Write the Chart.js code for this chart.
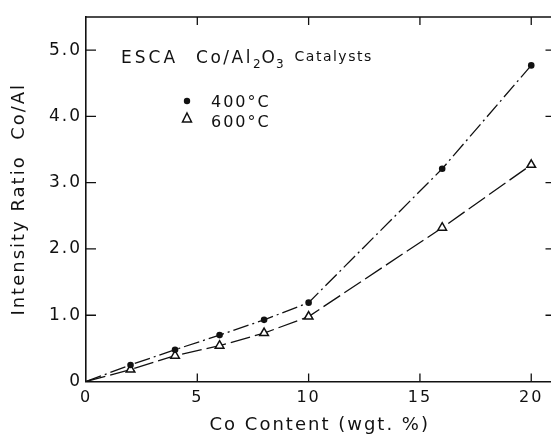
<!DOCTYPE html>
<html>
<head>
<meta charset="utf-8">
<script src="https://cdn.jsdelivr.net/npm/chart.js@4.4.1/dist/chart.umd.min.js"></script>
<style>
  html, body { margin: 0; padding: 0; background: #fff; overflow: hidden; }
  #wrap { width: 560px; height: 439px; }
</style>
</head>
<body>
<div id="wrap"><canvas id="chart" width="560" height="439"></canvas></div>
<script>
const coContent = [0, 2, 4, 6, 8, 10, 16, 20];
const ratio400 = [0, 0.25, 0.48, 0.70, 0.93, 1.19, 3.21, 4.77];
const ratio600 = [0, 0.18, 0.39, 0.54, 0.73, 0.98, 2.32, 3.27];
const seriesLabels = ["400°C", "600°C"];
const xTicks = [0, 5, 10, 15, 20];
const yTicks = [0, 1, 2, 3, 4, 5];

const FONT = "'DejaVu Sans', sans-serif";
const INK = "#111";

function pts(ys) {
  return coContent.map((x, i) => ({ x: x, y: ys[i] }));
}

// frame, inward ticks, caption and key drawn on top of the chart
const decor = {
  id: "decor",
  beforeDraw(chart) {
    chart.ctx.letterSpacing = "2px";
  },
  afterDraw(chart) {
    const ctx = chart.ctx;
    const a = chart.chartArea;
    const xs = chart.scales.x, ys = chart.scales.y;
    ctx.save();
    ctx.strokeStyle = INK;
    ctx.lineWidth = 1.6;
    ctx.beginPath();
    ctx.moveTo(a.left, a.top);
    ctx.lineTo(a.right, a.top);
    ctx.lineTo(a.right, a.bottom);
    ctx.stroke();
    ctx.lineWidth = 1.3;
    ctx.beginPath();
    xTicks.forEach((v) => {
      const px = xs.getPixelForValue(v);
      if (v === 0) return;
      ctx.moveTo(px, a.bottom);
      ctx.lineTo(px, a.bottom - 8);
      ctx.moveTo(px, a.top);
      ctx.lineTo(px, a.top + 8);
    });
    yTicks.forEach((v) => {
      const py = ys.getPixelForValue(v);
      if (v === 0) return;
      ctx.moveTo(a.left, py);
      ctx.lineTo(a.left + 10, py);
      ctx.moveTo(a.right, py);
      ctx.lineTo(a.right - 8, py);
    });
    ctx.stroke();

    // caption
    ctx.fillStyle = INK;
    ctx.textBaseline = "alphabetic";
    ctx.textAlign = "left";
    let x = 121, y = 63;
    const part = (t, size, dy, sp) => {
      ctx.letterSpacing = sp;
      ctx.font = size + "px " + FONT;
      ctx.fillText(t, x, y + dy);
      x += ctx.measureText(t).width;
    };
    part("ESCA", 17, 0, "3px");
    x += 18;
    part("Co/Al", 17, 0, "2.5px");
    part("2", 12, 5, "1px");
    part("O", 17, 0, "1px");
    part("3", 12, 5, "1px");
    x += 10;
    part("Catalysts", 14, -2, "1.5px");

    // key
    ctx.beginPath();
    ctx.arc(187, 101, 3.2, 0, Math.PI * 2);
    ctx.fill();
    ctx.lineWidth = 1.5;
    ctx.beginPath();
    ctx.moveTo(187, 113);
    ctx.lineTo(191.5, 122);
    ctx.lineTo(182.5, 122);
    ctx.closePath();
    ctx.stroke();
    ctx.letterSpacing = "2px";
    ctx.font = "16px " + FONT;
    ctx.fillText(seriesLabels[0], 211, 107);
    ctx.fillText(seriesLabels[1], 211, 127);
    ctx.restore();
  }
};

new Chart(document.getElementById("chart"), {
  type: "scatter",
  data: {
    datasets: [
      {
        label: seriesLabels[0],
        data: pts(ratio400),
        showLine: true,
        borderColor: INK,
        backgroundColor: INK,
        borderWidth: 1.3,
        borderDash: [16, 4, 2, 4],
        pointStyle: "circle",
        pointRadius: coContent.map((v) => (v === 0 ? 0 : 3.3)),
        pointBorderWidth: 0,
      },
      {
        label: seriesLabels[1],
        data: pts(ratio600),
        showLine: true,
        borderColor: INK,
        backgroundColor: "#fff",
        borderWidth: 1.3,
        borderDash: [20, 5],
        pointStyle: "triangle",
        pointRadius: coContent.map((v) => (v === 0 ? 0 : 5)),
        pointBorderWidth: 1.5,
        pointBorderColor: INK,
      },
    ],
  },
  options: {
    responsive: false,
    animation: false,
    layout: { padding: { top: 17, right: 3, left: 0, bottom: 0 } },
    plugins: { legend: { display: false }, tooltip: { enabled: false } },
    scales: {
      x: {
        type: "linear",
        min: 0,
        max: 21,
        afterBuildTicks: (s) => { s.ticks = xTicks.map((v) => ({ value: v })); },
        afterFit: (s) => { s.height = 57.5; },
        grid: { display: false, drawTicks: false },
        border: { display: true, color: INK, width: 1.6 },
        ticks: {
          color: INK,
          padding: 7,
          maxRotation: 0,
          font: { family: FONT, size: 16 },
          callback: (v) => String(v),
        },
        title: {
          display: true,
          text: "Co Content (wgt. %)",
          color: INK,
          font: { family: FONT, size: 18 },
          padding: { top: 0, bottom: 3 },
        },
      },
      y: {
        type: "linear",
        min: 0,
        max: 5.5,
        afterBuildTicks: (s) => { s.ticks = yTicks.map((v) => ({ value: v })); },
        afterFit: (s) => { s.width = 86; },
        grid: { display: false, drawTicks: false },
        border: { display: true, color: INK, width: 1.6 },
        ticks: {
          color: INK,
          padding: 4,
          font: { family: FONT, size: 17 },
          callback: (v) => (v === 0 ? "0" : v.toFixed(1)),
        },
        title: {
          display: true,
          text: "Intensity Ratio  Co/Al",
          color: INK,
          font: { family: FONT, size: 18 },
          padding: { top: 9, bottom: 0 },
        },
      },
    },
  },
  plugins: [decor],
});
</script>
</body>
</html>
